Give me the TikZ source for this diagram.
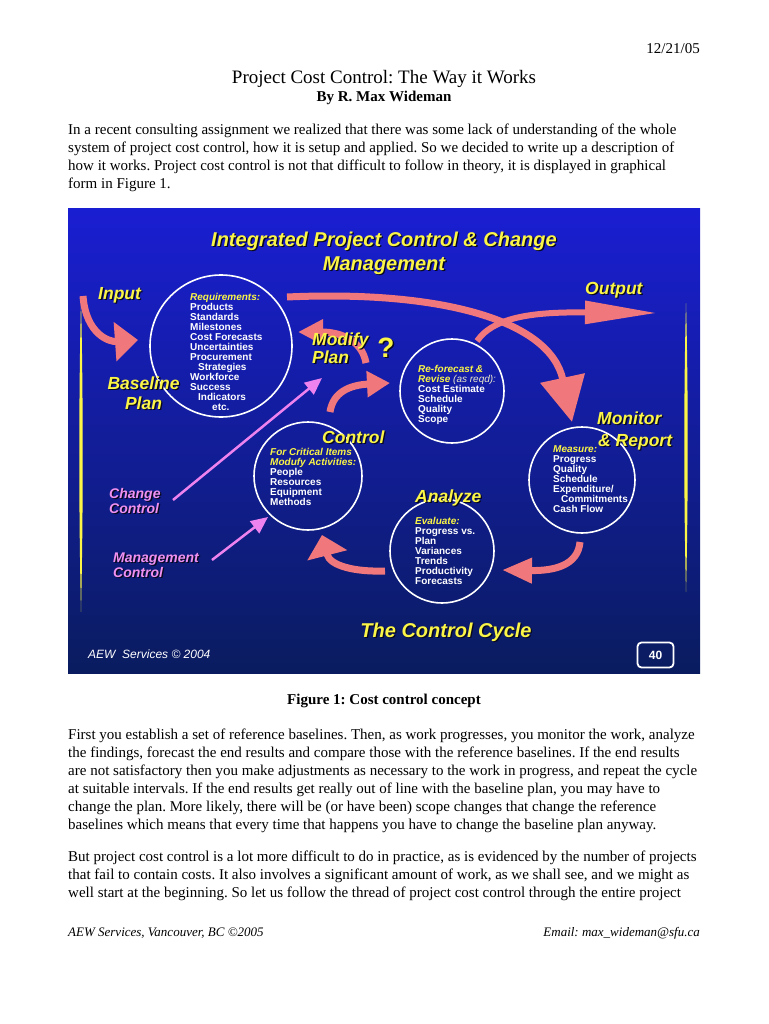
\documentclass[tikz,border=0pt]{standalone}
\usepackage{fontspec}
\setmainfont{Liberation Serif}
\newfontfamily\arial{Liberation Sans}
\usetikzlibrary{arrows.meta}
\frenchspacing
\definecolor{labyellow}{RGB}{250,245,70}
\definecolor{labpink}{RGB}{240,145,240}
\definecolor{arrowc}{RGB}{240,120,124}
\definecolor{pinkc}{RGB}{238,130,238}
\definecolor{paneltop}{RGB}{26,30,210}
\definecolor{panelbot}{RGB}{10,28,95}
\definecolor{shadowc}{RGB}{8,8,30}
\definecolor{paletext}{RGB}{235,235,200}
\newcommand\shlabel[5]{%
  \node[#2,text=shadowc,xshift=1.3pt,yshift=-1.3pt] (#1s) at (#3,#4) {#5};
  \node[#2] (#1) at (#3,#4) {#5};}
\tikzset{
  body/.style={font=\fontsize{15}{18}\selectfont, inner sep=0, anchor=base west},
  ttl/.style={font=\arial\bfseries\itshape\fontsize{20}{20}\selectfont, text=labyellow, inner sep=0, anchor=base},
  ylab/.style={font=\arial\bfseries\itshape\fontsize{17.5}{17.5}\selectfont, text=labyellow, inner sep=0, anchor=base west},
  plab/.style={font=\arial\bfseries\itshape\fontsize{14}{14}\selectfont, text=labpink, inner sep=0, anchor=base west},
  ctext/.style={font=\arial\bfseries\fontsize{10}{10}\selectfont, text=white, inner sep=0, align=left, anchor=north west},
  cring/.style={circle, draw=white, line width=1.6pt, inner sep=0},
  flow/.style={draw=arrowc, line width=7pt},
  pflow/.style={draw=pinkc, line width=2.5pt, -{Triangle[width=15pt,length=17pt]}},
}
\newcommand\hd[1]{{\color{labyellow}\itshape #1}}
\begin{document}
\begin{tikzpicture}[x=1pt,y=-1pt]
\fill[white] (0,0) rectangle (768,1024);
\useasboundingbox (0,0) rectangle (768,1024);

% ---- page header text ----
\node[body, anchor=base east] (date) at (700,54) {12/21/05};
\node[font=\fontsize{19}{19}\selectfont, inner sep=0, anchor=base] (title) at (384,84) {Project Cost Control: The Way it Works};
\node[font=\bfseries\fontsize{15}{15}\selectfont, inner sep=0, anchor=base] (byline) at (384,102) {By R. Max Wideman};
\node[body] (p1a) at (68,135) {In a recent consulting assignment we realized that there was some lack of understanding of the whole};
\node[body] (p1b) at (68,153) {system of project cost control, how it is setup and applied. So we decided to write up a description of};
\node[body] (p1c) at (68,171) {how it works. Project cost control is not that difficult to follow in theory, it is displayed in graphical};
\node[body] (p1d) at (68,189) {form in Figure 1.};

% ---- panel ----
\shade[top color=paneltop, bottom color=panelbot] (68,209) rectangle (700,673);
\fill[labyellow] (81,300) .. controls (83.3,400) and (83.3,510) .. (81,612) .. controls (78.7,510) and (78.7,400) .. (81,300) -- cycle;
\fill[labyellow] (686,303) .. controls (688.3,390) and (688.3,500) .. (686,592) .. controls (683.7,500) and (683.7,390) .. (686,303) -- cycle;

\shlabel{t1}{ttl}{384}{246}{Integrated Project Control \& Change}
\shlabel{t2}{ttl}{384}{270}{Management}

% circles
\node[cring, minimum size=142pt] (base) at (221,346) {};
\node[cring, minimum size=104pt] (refc) at (452,391) {};
\node[cring, minimum size=108pt] (ctrl) at (308,476) {};
\node[cring, minimum size=104pt] (anal) at (442,551) {};
\node[cring, minimum size=106pt] (mon) at (582,480) {};

% arrow end points
\coordinate (inA) at (83,296);   \coordinate (inB) at (138,340);
\coordinate (bgA) at (287,297);  \coordinate (bgB) at (572,422);
\coordinate (outA) at (477,341); \coordinate (outB) at (657,313);
\coordinate (modA) at (366,363); \coordinate (modB) at (298,332);
\coordinate (rfA) at (330,412);  \coordinate (rfB) at (390,383);
\coordinate (maA) at (580,542);  \coordinate (maB) at (502,570);
\coordinate (acA) at (385,571);  \coordinate (acB) at (322,535);
\coordinate (ccA) at (173,500);  \coordinate (ccB) at (322,378);
\coordinate (mcA) at (212,560);  \coordinate (mcB) at (268,517);

\draw[flow, -{Triangle[width=38pt,length=23pt]}] (inA) .. controls (86,335) and (110,342) .. (inB);
\draw[flow, -{Triangle[width=44pt,length=45pt]}] (bgA) .. controls (440,290) and (550,320) .. (bgB);
\draw[flow, line width=6pt, -{Triangle[width=22pt,length=72pt]}] (outA) .. controls (495,315) and (540,312) .. (outB);
\draw[flow, -{Triangle[width=24pt,length=25pt]}] (modA) .. controls (362,340) and (340,332) .. (modB);
\draw[flow, -{Triangle[width=25pt,length=23pt]}] (rfA) .. controls (333,392) and (350,385) .. (rfB);
\draw[flow, -{Triangle[width=24pt,length=30pt]}] (maA) .. controls (578,565) and (555,571) .. (maB);
\draw[flow, -{Triangle[width=40pt,length=21pt]}] (acA) .. controls (355,572) and (330,566) .. (acB);
\draw[pflow] (ccA) -- (ccB);
\draw[pflow] (mcA) -- (mcB);

% labels
\shlabel{lin}{ylab}{98}{299}{Input}
\shlabel{lbl1}{ylab, anchor=base}{143.5}{389}{Baseline}
\shlabel{lbl2}{ylab, anchor=base}{143.5}{409}{Plan}
\shlabel{lmo1}{ylab}{312}{345}{Modify}
\shlabel{lmo2}{ylab}{312}{363}{Plan}
\shlabel{lq}{ylab, anchor=base, font=\arial\bfseries\fontsize{28}{28}\selectfont}{386}{357}{?}
\shlabel{lout}{ylab}{585}{294}{Output}
\shlabel{lmon1}{ylab}{597}{424}{Monitor}
\shlabel{lmon2}{ylab}{598}{446}{\& Report}
\shlabel{lctl}{ylab}{322}{443}{Control}
\shlabel{lan}{ylab}{415}{502}{Analyze}
\shlabel{lcyc}{ttl}{446}{637}{The Control Cycle}
\shlabel{lcc1}{plab}{109}{498}{Change}
\shlabel{lcc2}{plab}{109}{513}{Control}
\shlabel{lmc1}{plab}{113}{562}{Management}
\shlabel{lmc2}{plab}{113}{577}{Control}

% circle contents
\node[ctext] (reqtxt) at (190,293.4) {\hd{Requirements:}\\Products\\Standards\\Milestones\\Cost Forecasts\\Uncertainties\\Procurement\\\hspace*{8pt}Strategies\\Workforce\\Success\\\hspace*{8pt}Indicators\\\hspace*{22pt}etc.};
\node[ctext] (reftxt) at (418,365.4) {\hd{Re-forecast \&}\\\hd{Revise {\mdseries\color{paletext}(as reqd):}}\\Cost Estimate\\Schedule\\Quality\\Scope};
\node[ctext] (ctltxt) at (270,448.4) {\hd{For Critical Items}\\\hd{Modufy Activities:}\\People\\Resources\\Equipment\\Methods};
\node[ctext] (montxt) at (553,445.4) {\hd{Measure:}\\Progress\\Quality\\Schedule\\Expenditure/\\\hspace*{8pt}Commitments\\Cash Flow};
\node[ctext] (antxt) at (415,517.4) {\hd{Evaluate:}\\Progress vs.\\Plan\\Variances\\Trends\\Productivity\\Forecasts};

% footer of panel
\node[font=\arial\itshape\fontsize{12}{12}\selectfont, text=white, inner sep=0, anchor=base west] (aew) at (88,658) {AEW\ \ Services \textcopyright\ 2004};
\node[draw=white, line width=1.8pt, rounded corners=4pt, minimum width=36pt, minimum height=25pt, text=white, inner sep=0, font=\arial\bfseries\fontsize{12}{12}\selectfont] (pg) at (655.5,655) {40};

% ---- text below panel ----
\node[font=\bfseries\fontsize{15}{15}\selectfont, inner sep=0, anchor=base] (cap) at (384,704) {Figure 1: Cost control concept};
\node[body] (p2a) at (68,739) {First you establish a set of reference baselines. Then, as work progresses, you monitor the work, analyze};
\node[body] (p2b) at (68,757) {the findings, forecast the end results and compare those with the reference baselines. If the end results};
\node[body] (p2c) at (68,775) {are not satisfactory then you make adjustments as necessary to the work in progress, and repeat the cycle};
\node[body] (p2d) at (68,793) {at suitable intervals. If the end results get really out of line with the baseline plan, you may have to};
\node[body] (p2e) at (68,811) {change the plan. More likely, there will be (or have been) scope changes that change the reference};
\node[body] (p2f) at (68,829) {baselines which means that every time that happens you have to change the baseline plan anyway.};
\node[body] (p3a) at (68,861) {But project cost control is a lot more difficult to do in practice, as is evidenced by the number of projects};
\node[body] (p3b) at (68,879) {that fail to contain costs. It also involves a significant amount of work, as we shall see, and we might as};
\node[body] (p3c) at (68,897) {well start at the beginning. So let us follow the thread of project cost control through the entire project};
\node[font=\itshape\fontsize{13}{13}\selectfont, inner sep=0, anchor=base west] (foot1) at (68,936) {AEW Services, Vancouver, BC \textcopyright2005};
\node[font=\itshape\fontsize{13}{13}\selectfont, inner sep=0, anchor=base east] (foot2) at (700,936) {Email: max\_wideman@sfu.ca};
\end{tikzpicture}
\end{document}
